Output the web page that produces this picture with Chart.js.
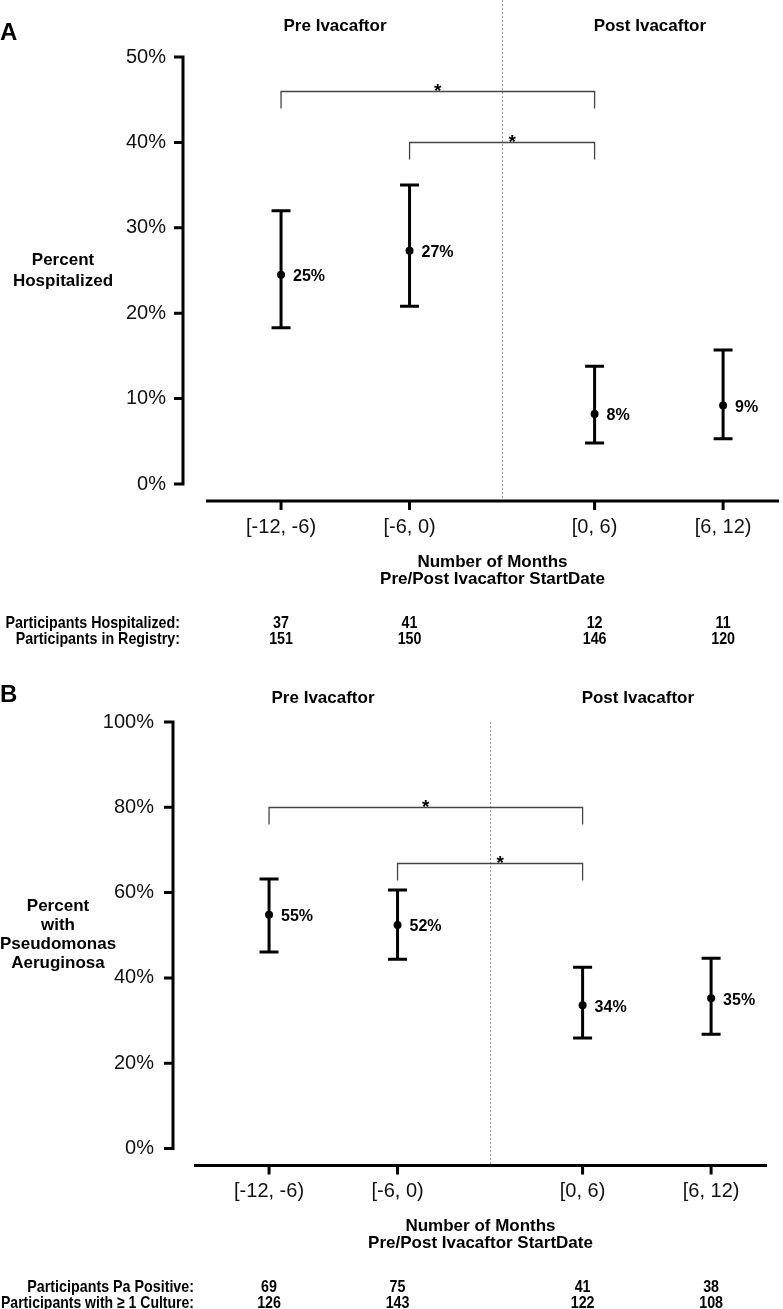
<!DOCTYPE html>
<html>
<head>
<meta charset="utf-8">
<script src="https://cdn.jsdelivr.net/npm/chart.js@4.4.1/dist/chart.umd.min.js"></script>
<style>
  body { margin: 0; background: #fff; }
  canvas { display: block; }
</style>
</head>
<body>
<canvas id="panelA" width="783" height="655"></canvas>
<canvas id="panelB" width="783" height="654"></canvas>
<script>
// shared x categories (months relative to ivacaftor start)
var periods = ['[-12, -6)', '[-6, 0)', '[0, 6)', '[6, 12)'];
var periodPos = [1, 2, 3.44, 4.44];
var dividerPos = 2.72;

// panel A - hospitalization
var hospPct = [24.5, 27.3, 8.2, 9.2];
var hospLow = [18.3, 20.8, 4.8, 5.3];
var hospHigh = [32.0, 35.0, 13.8, 15.7];
var hospLabels = ['25%', '27%', '8%', '9%'];
var hospCount = [37, 41, 12, 11];
var registryCount = [151, 150, 146, 120];
var hospTicks = [0, 10, 20, 30, 40, 50];
var hospBrackets = [[0, 2, 46], [1, 2, 40]];

// panel B - pseudomonas aeruginosa
var paPct = [54.8, 52.4, 33.6, 35.2];
var paLow = [46.1, 44.4, 25.9, 26.8];
var paHigh = [63.2, 60.6, 42.5, 44.6];
var paLabels = ['55%', '52%', '34%', '35%'];
var paCount = [69, 75, 41, 38];
var cultureCount = [126, 143, 122, 108];
var paTicks = [0, 20, 40, 60, 80, 100];
var paBrackets = [[0, 2, 80], [1, 2, 67]];

var FONT = '"Liberation Sans", Arial, sans-serif';

// condensed text, like the narrow bold font of the table
function narrowText(ctx, txt, x, y, sx, maxW) {
  ctx.save();
  ctx.translate(x, y);
  ctx.scale(sx, 1);
  if (maxW) ctx.fillText(txt, 0, 0, maxW / sx);
  else ctx.fillText(txt, 0, 0);
  ctx.restore();
}

function makeExtras(cfg) {
  return {
    id: 'extras',
    beforeDatasetsDraw: function(chart) {
      var ctx = chart.ctx, ca = chart.chartArea;
      var x = chart.scales.x, y = chart.scales.y;
      var axisY = ca.bottom + 17;
      ctx.save();
      // dotted divider pre/post
      var dx = Math.round(x.getPixelForValue(dividerPos)) + 0.5;
      ctx.strokeStyle = '#9a9a9a';
      ctx.lineWidth = 1;
      ctx.setLineDash([2, 2]);
      ctx.beginPath();
      ctx.moveTo(dx, cfg.dividerTop === null ? ca.top : cfg.dividerTop);
      ctx.lineTo(dx, axisY);
      ctx.stroke();
      ctx.setLineDash([]);
      // error bars
      ctx.strokeStyle = '#000';
      ctx.lineWidth = 3;
      periodPos.forEach(function(p, i) {
        var px = x.getPixelForValue(p);
        var yl = y.getPixelForValue(cfg.low[i]);
        var yh = y.getPixelForValue(cfg.high[i]);
        ctx.beginPath();
        ctx.moveTo(px, yl); ctx.lineTo(px, yh);
        ctx.moveTo(px - 9.5, yl); ctx.lineTo(px + 9.5, yl);
        ctx.moveTo(px - 9.5, yh); ctx.lineTo(px + 9.5, yh);
        ctx.stroke();
      });
      ctx.restore();
    },
    afterDraw: function(chart) {
      var ctx = chart.ctx, ca = chart.chartArea;
      var x = chart.scales.x, y = chart.scales.y;
      var axisY = ca.bottom + 17;
      var axisX = ca.left - cfg.yGap;
      ctx.save();

      // y axis line + ticks
      ctx.strokeStyle = '#000';
      ctx.lineWidth = 3;
      ctx.beginPath();
      ctx.moveTo(axisX, y.getPixelForValue(cfg.ticks[cfg.ticks.length - 1]) - 1.5);
      ctx.lineTo(axisX, y.getPixelForValue(0) + 1.5);
      cfg.ticks.forEach(function(t) {
        var ty = y.getPixelForValue(t);
        ctx.moveTo(axisX - 9, ty);
        ctx.lineTo(axisX, ty);
      });
      ctx.stroke();

      // x axis line + ticks
      ctx.beginPath();
      ctx.moveTo(ca.left, axisY);
      ctx.lineTo(ca.right, axisY);
      periodPos.forEach(function(p) {
        var px = x.getPixelForValue(p);
        ctx.moveTo(px, axisY);
        ctx.lineTo(px, axisY + 9);
      });
      ctx.stroke();

      // value labels
      ctx.fillStyle = '#000';
      ctx.font = 'bold 16px ' + FONT;
      ctx.textAlign = 'left';
      ctx.textBaseline = 'middle';
      periodPos.forEach(function(p, i) {
        ctx.fillText(cfg.labels[i], x.getPixelForValue(p) + 12, y.getPixelForValue(cfg.pct[i]) + 2);
      });

      // significance brackets
      ctx.strokeStyle = '#444';
      ctx.lineWidth = 1.3;
      cfg.brackets.forEach(function(b) {
        var x1 = x.getPixelForValue(periodPos[b[0]]);
        var x2 = x.getPixelForValue(periodPos[b[1]]);
        var by = Math.round(y.getPixelForValue(b[2])) + 0.5;
        ctx.beginPath();
        ctx.moveTo(x1, by + 17); ctx.lineTo(x1, by);
        ctx.lineTo(x2, by); ctx.lineTo(x2, by + 17);
        ctx.stroke();
        var mid = (x1 + x2) / 2;
        if (Math.abs(mid - x.getPixelForValue(dividerPos)) < 15) mid += 10;
        ctx.font = 'bold 19px ' + FONT;
        ctx.textAlign = 'center';
        ctx.textBaseline = 'alphabetic';
        ctx.fillText('*', mid, by + 5);
      });

      // pre / post headers
      ctx.font = 'bold 17px ' + FONT;
      ctx.textAlign = 'center';
      ctx.textBaseline = 'middle';
      ctx.fillText('Pre Ivacaftor', x.getPixelForValue(1.42), ca.top - cfg.headerUp);
      ctx.fillText('Post Ivacaftor', x.getPixelForValue(3.87), ca.top - cfg.headerUp);

      // panel letter
      ctx.font = 'bold 24px ' + FONT;
      ctx.textAlign = 'left';
      ctx.fillText(cfg.letter, 0, ca.top - cfg.letterUp);

      // y title
      ctx.font = 'bold 17px ' + FONT;
      ctx.textAlign = 'center';
      var midY = (y.getPixelForValue(0) + y.getPixelForValue(cfg.ticks[cfg.ticks.length - 1])) / 2;
      var n = cfg.yTitle.length;
      cfg.yTitle.forEach(function(line, i) {
        ctx.fillText(line, cfg.yTitleX, midY + (i - (n - 1) / 2) * cfg.yTitleLH);
      });

      // x title
      var cx = (ca.left + ca.right) / 2;
      ctx.fillText('Number of Months', cx, ca.bottom + 78);
      ctx.fillText('Pre/Post Ivacaftor StartDate', cx, ca.bottom + 95);

      // counts table
      ctx.font = 'bold 17px ' + FONT;
      ctx.textAlign = 'right';
      narrowText(ctx, cfg.rowNames[0], cfg.tableRight, ca.bottom + 139, 0.84, cfg.tableRight - 1);
      narrowText(ctx, cfg.rowNames[1], cfg.tableRight, ca.bottom + 155, 0.84, cfg.tableRight - 1);
      ctx.textAlign = 'center';
      periodPos.forEach(function(p, i) {
        var px = x.getPixelForValue(p);
        narrowText(ctx, String(cfg.row1[i]), px, ca.bottom + 139, 0.84);
        narrowText(ctx, String(cfg.row2[i]), px, ca.bottom + 155, 0.84);
      });

      ctx.restore();
    }
  };
}

function makePanel(id, cfg) {
  var canvas = document.getElementById(id);
  var H = canvas.height;
  var pts = periodPos.map(function(p, i) { return { x: p, y: cfg.pct[i] }; });
  return new Chart(canvas, {
    type: 'scatter',
    data: {
      datasets: [{
        data: pts,
        pointRadius: 4,
        pointHoverRadius: 4,
        backgroundColor: '#000',
        borderColor: '#000',
        borderWidth: 0,
        showLine: false
      }]
    },
    options: {
      responsive: false,
      animation: false,
      events: [],
      layout: { padding: { top: cfg.top, right: 783 - cfg.right, left: 0, bottom: 0 } },
      plugins: { legend: { display: false }, tooltip: { enabled: false } },
      scales: {
        x: {
          type: 'linear',
          min: 0.416,
          max: 4.875,
          grid: { display: false, drawTicks: false },
          border: { display: false },
          afterBuildTicks: function(s) {
            s.ticks = periodPos.map(function(v) { return { value: v }; });
          },
          afterFit: function(s) { s.height = H - cfg.bottom; },
          ticks: {
            autoSkip: false,
            maxRotation: 0,
            padding: 31,
            color: '#111',
            font: { family: FONT, size: 20 },
            callback: function(v) { return periods[periodPos.indexOf(v)]; }
          }
        },
        y: {
          min: 0,
          max: cfg.ticks[cfg.ticks.length - 1],
          grid: { display: false, drawTicks: false },
          border: { display: false },
          afterBuildTicks: function(s) {
            s.ticks = cfg.ticks.map(function(v) { return { value: v }; });
          },
          afterFit: function(s) { s.width = cfg.left; },
          ticks: {
            padding: 40,
            color: '#111',
            font: { family: FONT, size: 20 },
            callback: function(v) { return v + '%'; }
          }
        }
      }
    },
    plugins: [makeExtras(cfg)]
  });
}

makePanel('panelA', {
  left: 206, right: 779, top: 57, bottom: 484,
  yGap: 23, headerUp: 31, letterUp: 24, dividerTop: 0,
  letter: 'A',
  pct: hospPct, low: hospLow, high: hospHigh, labels: hospLabels,
  ticks: hospTicks, brackets: hospBrackets,
  yTitle: ['Percent', 'Hospitalized'], yTitleX: 63, yTitleLH: 21,
  rowNames: ['Participants Hospitalized:', 'Participants in Registry:'],
  row1: hospCount, row2: registryCount, tableRight: 180
});

makePanel('panelB', {
  left: 194, right: 767, top: 67, bottom: 493.5,
  yGap: 21, headerUp: 24, letterUp: 27, dividerTop: null,
  letter: 'B',
  pct: paPct, low: paLow, high: paHigh, labels: paLabels,
  ticks: paTicks, brackets: paBrackets,
  yTitle: ['Percent', 'with', 'Pseudomonas', 'Aeruginosa'], yTitleX: 58, yTitleLH: 19,
  rowNames: ['Participants Pa Positive:', 'Participants with \u2265 1 Culture:'],
  row1: paCount, row2: cultureCount, tableRight: 194
});
</script>
</body>
</html>
